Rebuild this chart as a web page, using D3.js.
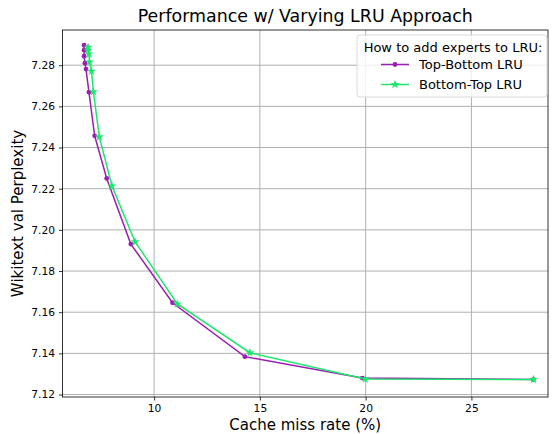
<!DOCTYPE html>
<html><head><meta charset="utf-8">
<script src="https://cdn.jsdelivr.net/npm/d3@7"></script>
<style>body{margin:0;background:#fff;} text{font-family:"DejaVu Sans",sans-serif;fill:#000;}</style>
</head><body>
<svg id="c" width="552" height="434"></svg>
<script>
const seriesNames = ["Top-Bottom LRU", "Bottom-Top LRU"];
const topBottomX = [6.69, 6.69, 6.69, 6.73, 6.78, 6.92, 7.19, 7.76, 8.90, 10.87, 14.29, 19.84, 27.93];
const topBottomY = [7.2897, 7.2873, 7.2844, 7.2810, 7.2781, 7.2669, 7.2457, 7.2250, 7.1931, 7.1646, 7.1384, 7.1280, 7.1273];
const bottomTopX = [6.88, 6.88, 6.92, 6.95, 7.04, 7.13, 7.41, 8.01, 9.10, 11.10, 14.53, 19.98, 27.93];
const bottomTopY = [7.2887, 7.2873, 7.2853, 7.2815, 7.2771, 7.2671, 7.2452, 7.2213, 7.1942, 7.1640, 7.1403, 7.1275, 7.1273];
const xTicks = [10, 15, 20, 25];
const yTicks = [7.12, 7.14, 7.16, 7.18, 7.20, 7.22, 7.24, 7.26, 7.28];
const titleText = "Performance w/ Varying LRU Approach";
const xLabel = "Cache miss rate (%)";
const yLabel = "Wikitext val Perplexity";
const legendTitle = "How to add experts to LRU:";

const colors = ["#9b1db3", "#1de86c"];
const svg = d3.select("#c");
const L = 62.5, R = 548, T = 30, B = 397;
const x = d3.scaleLinear().domain([5.67, 28.62]).range([L, R]);
const y = d3.scaleLinear().domain([7.1188, 7.2971]).range([B, T]);

// grid
const g = svg.append("g");
g.selectAll(".vx").data(xTicks).enter().append("line")
  .attr("x1", d => x(d)).attr("x2", d => x(d)).attr("y1", T).attr("y2", B)
  .attr("stroke", "#b0b0b0").attr("stroke-width", 1);
g.selectAll(".hy").data(yTicks).enter().append("line")
  .attr("y1", d => y(d)).attr("y2", d => y(d)).attr("x1", L).attr("x2", R)
  .attr("stroke", "#b0b0b0").attr("stroke-width", 1);

// axes
const xAxis = d3.axisBottom(x).tickValues(xTicks).tickSize(3.5).tickPadding(4).tickFormat(d3.format("d"));
const yAxis = d3.axisLeft(y).tickValues(yTicks).tickSize(3.5).tickPadding(4).tickFormat(d3.format(".2f"));
const gx = svg.append("g").attr("transform", `translate(0,${B})`).call(xAxis);
const gy = svg.append("g").attr("transform", `translate(${L},0)`).call(yAxis);
[gx, gy].forEach(a => {
  a.select(".domain").remove();
  a.selectAll("text").style("font-size", "10.7px").style("font-family", "DejaVu Sans");
  a.selectAll("line").attr("stroke", "#000").attr("stroke-width", 0.8);
});
// spines
svg.append("rect").attr("x", L).attr("y", T).attr("width", R - L).attr("height", B - T)
  .attr("fill", "none").attr("stroke", "#000").attr("stroke-width", 0.8);

// lines
const data = [
  topBottomX.map((v, i) => [v, topBottomY[i]]),
  bottomTopX.map((v, i) => [v, bottomTopY[i]])
];
const line = d3.line().x(d => x(d[0])).y(d => y(d[1]));
const star = d3.symbol().type(d3.symbolStar).size(26);
data.forEach((pts, k) => {
  svg.append("path").attr("d", line(pts)).attr("fill", "none")
    .attr("stroke", colors[k]).attr("stroke-width", 1.5);
  if (k === 0) {
    svg.selectAll(".m0").data(pts).enter().append("circle")
      .attr("cx", d => x(d[0])).attr("cy", d => y(d[1])).attr("r", 2.4).attr("fill", colors[k]);
  } else {
    svg.selectAll(".m1").data(pts).enter().append("path")
      .attr("d", star).attr("transform", d => `translate(${x(d[0])},${y(d[1])})`).attr("fill", colors[k]);
  }
});

// title & labels
svg.append("text").attr("x", (L + R) / 2).attr("y", 21.5).attr("text-anchor", "middle")
  .style("font-size", "17.4px").text(titleText);
svg.append("text").attr("x", (L + R) / 2).attr("y", 430).attr("text-anchor", "middle")
  .style("font-size", "15px").text(xLabel);
svg.append("text").attr("transform", `translate(23,${(T + B) / 2}) rotate(-90)`).attr("text-anchor", "middle")
  .style("font-size", "15px").text(yLabel);

// legend
const lg = svg.append("g");
lg.append("rect").attr("x", 357).attr("y", 35).attr("width", 190).attr("height", 62).attr("rx", 3)
  .attr("fill", "#fff").attr("fill-opacity", 0.8).attr("stroke", "#d9d9d9").attr("stroke-width", 1);
lg.append("text").attr("x", 453).attr("y", 52).attr("text-anchor", "middle").style("font-size", "13px").text(legendTitle);
seriesNames.forEach((n, k) => {
  const yy = 64.5 + k * 20;
  lg.append("line").attr("x1", 381).attr("x2", 409).attr("y1", yy).attr("y2", yy)
    .attr("stroke", colors[k]).attr("stroke-width", 1.5);
  if (k === 0) lg.append("circle").attr("cx", 395).attr("cy", yy).attr("r", 2.4).attr("fill", colors[k]);
  else lg.append("path").attr("d", star).attr("transform", `translate(395,${yy})`).attr("fill", colors[k]);
  lg.append("text").attr("x", 419).attr("y", yy + 4.7).style("font-size", "13px").text(n);
});
</script>
</body></html>
